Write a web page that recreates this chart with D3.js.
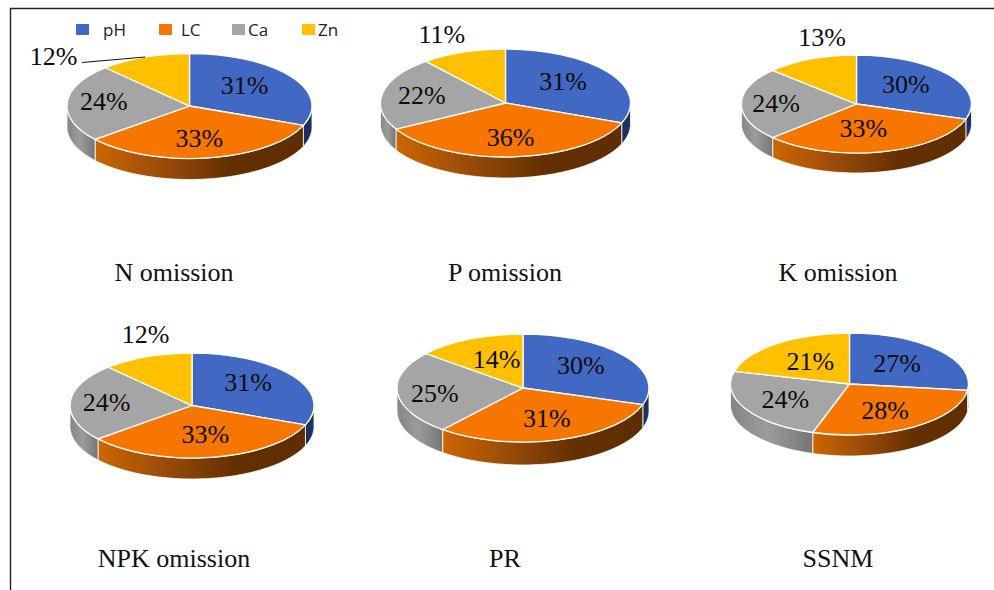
<!DOCTYPE html>
<html>
<head>
<meta charset="utf-8">
<title>Nutrient share by treatment</title>
<script src="https://cdnjs.cloudflare.com/ajax/libs/d3/7.8.5/d3.min.js"></script>
<style>
  html, body { margin: 0; padding: 0; background: #fff; }
  svg { display: block; }
  .pct { font-family: "Liberation Serif", serif; font-size: 26px; fill: #0c0c0c; text-anchor: middle; dominant-baseline: central; }
  .title { font-family: "Liberation Serif", serif; font-size: 26px; fill: #111; text-anchor: middle; }
  .key { font-family: "Open Sans", sans-serif; font-size: 17px; fill: #222; }
</style>
</head>
<body>
<svg id="chart" width="994" height="590"></svg>
<script>
// Nutrient series, one value per treatment (percent)
const treatments = ["N omission", "P omission", "K omission", "NPK omission", "PR", "SSNM"];
const nutrients = ["pH", "LC", "Ca", "Zn"];
const pH = [31, 31, 30, 31, 30, 27];
const LC = [33, 36, 33, 33, 31, 28];
const Ca = [24, 22, 24, 24, 25, 24];
const Zn = [12, 11, 13, 12, 14, 21];
const seriesValues = [pH, LC, Ca, Zn];

const topColors = ["#4169c4", "#f67600", "#a5a5a5", "#ffc000"];

// Disc geometry per panel: centre, radii, wall height, caption position
const panels = [
  { cx: 189.5, cy: 106, rx: 122.5, ry: 52.5, depth: 21, capX: 174, capY: 281 },
  { cx: 505.5, cy: 103, rx: 125,   ry: 54,   depth: 21, capX: 505, capY: 281 },
  { cx: 856.5, cy: 104, rx: 115,   ry: 49,   depth: 20, capX: 838, capY: 281 },
  { cx: 192,   cy: 405.5, rx: 122, ry: 52.5, depth: 21, capX: 174, capY: 567 },
  { cx: 523,   cy: 388, rx: 126,   ry: 54,   depth: 23, capX: 505, capY: 567 },
  { cx: 849.5, cy: 384, rx: 119,   ry: 51,   depth: 21, capX: 838, capY: 567 }
];

// Percent label anchors in unit-disc coordinates, by nutrient within each panel
const labelAnchors = [
  [[0.45, -0.40], [0.08, 0.61], [-0.70, -0.08], [-1.11, -0.95]],
  [[0.46, -0.39], [0.04, 0.63], [-0.67, -0.13], [-0.51, -1.26]],
  [[0.43, -0.39], [0.06, 0.51], [-0.70, -0.02], [-0.30, -1.35]],
  [[0.46, -0.44], [0.11, 0.56], [-0.70, -0.06], [-0.38, -1.35]],
  [[0.46, -0.41], [0.19, 0.57], [-0.70, 0.11], [-0.21, -0.52]],
  [[0.40, -0.41], [0.30, 0.51], [-0.54, 0.31], [-0.33, -0.45]]
];

const legendX = [76, 159, 232, 302];
const legendTextX = [103, 181, 248, 318];

const svg = d3.select("#chart");
const defs = svg.append("defs");

// Horizontal shading for the side walls
function wallGradient(id, stops) {
  const g = defs.append("linearGradient").attr("id", id)
    .attr("x1", "0%").attr("x2", "100%").attr("y1", "0%").attr("y2", "0%");
  stops.forEach(([o, c]) => g.append("stop").attr("offset", o).attr("stop-color", c));
}
wallGradient("wall-pH", [["0%", "#1b2d5a"], ["100%", "#1f3364"]]);
wallGradient("wall-LC", [["0%", "#cc6600"], ["35%", "#96490a"], ["65%", "#643000"], ["100%", "#5f2d00"]]);
wallGradient("wall-Ca", [["0%", "#858585"], ["45%", "#9c9c9c"], ["100%", "#757575"]]);
wallGradient("wall-Zn", [["0%", "#b38600"], ["100%", "#8a6800"]]);

// Frame: top and left rules only
svg.append("path").attr("d", "M10.5,590V8.5H994").attr("fill", "none")
  .attr("stroke", "#222").attr("stroke-width", 1.4);

const pie = d3.pie().sort(null).startAngle(0).endAngle(2 * Math.PI);
const unitArc = d3.arc().innerRadius(0).outerRadius(1);
const FRONT_START = Math.PI / 2, FRONT_END = 3 * Math.PI / 2;

panels.forEach((p, i) => {
  const values = seriesValues.map(s => s[i]);
  const slices = pie(values);
  const sx = d3.scaleLinear().domain([-1, 1]).range([p.cx - p.rx, p.cx + p.rx]);
  const sy = d3.scaleLinear().domain([-1, 1]).range([p.cy - p.ry, p.cy + p.ry]);
  const g = svg.append("g").attr("class", "panel");

  // Side walls: only the part of each slice facing the viewer
  const wall = d3.area()
    .x(a => sx(Math.sin(a)))
    .y0(a => sy(-Math.cos(a)))
    .y1(a => sy(-Math.cos(a)) + p.depth);
  slices.forEach((s, k) => {
    const a0 = Math.max(s.startAngle, FRONT_START);
    const a1 = Math.min(s.endAngle, FRONT_END);
    if (a1 <= a0) return;
    const steps = d3.range(0, 49).map(t => a0 + (a1 - a0) * t / 48);
    g.append("path").attr("d", wall(steps))
      .attr("fill", `url(#wall-${nutrients[k]})`)
      .attr("stroke", "#fff").attr("stroke-width", 0.8);
  });

  // Top face: unit arcs squashed to the disc's ellipse
  g.append("g")
    .attr("transform", `translate(${p.cx},${p.cy}) scale(${p.rx},${p.ry})`)
    .selectAll("path").data(slices).join("path")
    .attr("d", unitArc)
    .attr("fill", (d, k) => topColors[k])
    .attr("stroke", "#fff").attr("stroke-width", 1.3)
    .attr("vector-effect", "non-scaling-stroke");

  // Percent labels
  g.selectAll("text.pct").data(slices).join("text")
    .attr("class", "pct")
    .attr("x", (d, k) => sx(labelAnchors[i][k][0]))
    .attr("y", (d, k) => sy(labelAnchors[i][k][1]))
    .text(d => d.data + "%");

  // Treatment caption
  g.append("text").attr("class", "title")
    .attr("x", p.capX).attr("y", p.capY).text(treatments[i]);
});

// Leader line for the small Zn slice of the first panel
svg.append("line").attr("x1", 82).attr("y1", 62.5).attr("x2", 145).attr("y2", 57)
  .attr("stroke", "#111").attr("stroke-width", 1);

// Legend
const legend = svg.append("g").attr("class", "legend");
legend.selectAll("rect").data(nutrients).join("rect")
  .attr("x", (d, k) => legendX[k]).attr("y", 24)
  .attr("width", 13).attr("height", 11)
  .attr("fill", (d, k) => topColors[k]);
legend.selectAll("text").data(nutrients).join("text")
  .attr("class", "key")
  .attr("x", (d, k) => legendTextX[k]).attr("y", 35.5)
  .text(d => d);
</script>
</body>
</html>
